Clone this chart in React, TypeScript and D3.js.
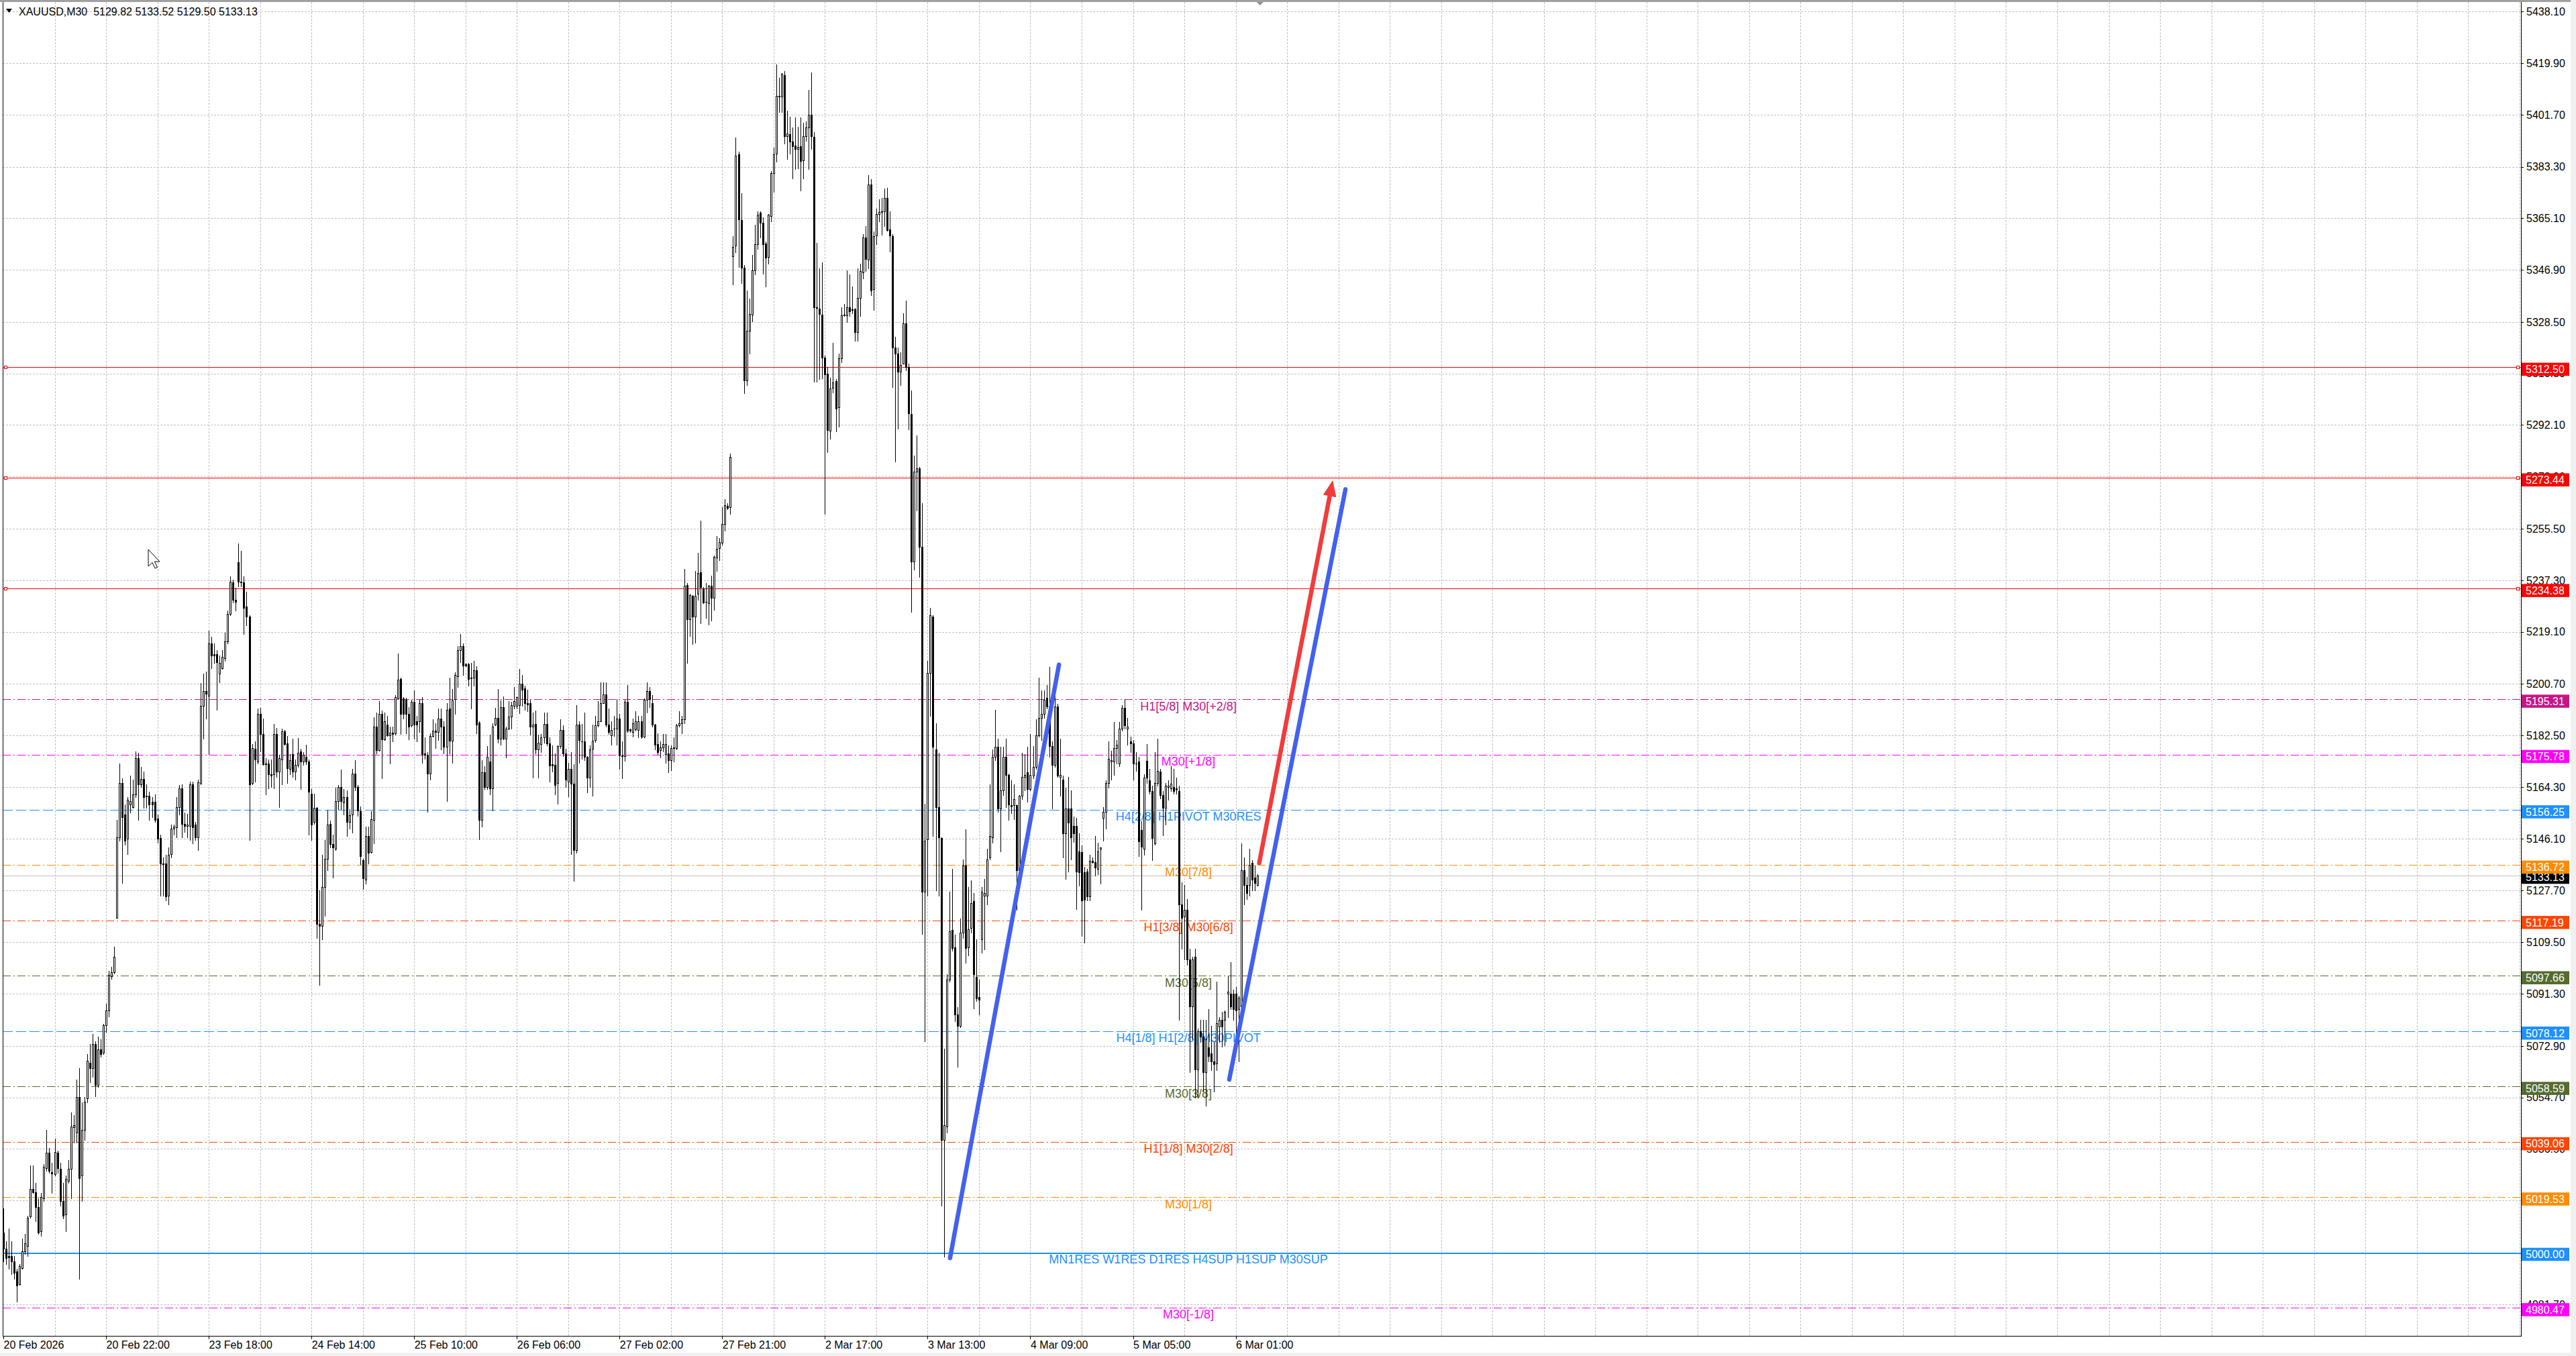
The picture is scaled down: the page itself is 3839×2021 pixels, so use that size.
import React, { useEffect, useRef } from 'react';
import * as d3 from 'd3';

type Candle = [number, number, number, number]; // open, high, low, close

const WIDTH = 3839;
const HEIGHT = 2021;
const PLOT_LEFT = 4;
const PLOT_TOP = 3;
const PLOT_RIGHT = 3757;
const PLOT_BOTTOM = 1991;
const FONT = '"Liberation Sans", Arial, Helvetica, sans-serif';

const symbolTitle = 'XAUUSD,M30';
const lastQuote = ['5129.82', '5133.52', '5129.50', '5133.13'];
const bidPrice = 5133.13;

const timeLabels = [
    '20 Feb 2026', '20 Feb 22:00', '23 Feb 18:00', '24 Feb 14:00', '25 Feb 10:00',
    '26 Feb 06:00', '27 Feb 02:00', '27 Feb 21:00', '2 Mar 17:00', '3 Mar 13:00',
    '4 Mar 09:00', '5 Mar 05:00', '6 Mar 01:00',
];
const BARS_PER_LABEL = 38;
const BARS_PER_GRID = 19;

const priceTicks = [
    '5438.10', '5419.90', '5401.70', '5383.30', '5365.10', '5346.90', '5328.50', '5310.30',
    '5292.10', '5273.90', '5255.50', '5237.30', '5219.10', '5200.70', '5182.50', '5164.30',
    '5146.10', '5127.70', '5109.50', '5091.30', '5072.90', '5054.70', '5036.50', '5018.30',
    '4999.90', '4981.70',
];

const resistanceLevels = [5312.5, 5273.44, 5234.38];

const murreyLevels = [
    5195.31, 5175.78, 5156.25, 5136.72, 5117.19, 5097.66,
    5078.12, 5058.59, 5039.06, 5019.53, 5000.0, 4980.47,
];
const murreyNames = [
    'H1[5/8] M30[+2/8]', 'M30[+1/8]', 'H4[2/8] H1PIVOT M30RES', 'M30[7/8]',
    'H1[3/8] M30[6/8]', 'M30[5/8]', 'H4[1/8] H1[2/8] M30PIVOT', 'M30[3/8]',
    'H1[1/8] M30[2/8]', 'M30[1/8]', 'MN1RES W1RES D1RES H4SUP H1SUP M30SUP', 'M30[-1/8]',
];
// line colours / styles, same order as murreyLevels
const murreyColors = [
    '#C71585', '#FF00FF', '#1E90FF', '#FF8C00', '#FF4500', '#556B2F',
    '#1E90FF', '#556B2F', '#FF4500', '#FF8C00', '#1E90FF', '#FF00FF',
];
const murreyDashes = [
    '12,4,2,4', '12,4,2,4', '15,5', '12,4,2,4', '12,4,2,4', '12,4,2,4',
    '15,5', '12,4,2,4', '12,4,2,4', '12,4,2,4', null, '12,4,2,4',
];
const LEVEL_LABEL_BAR = 438.5;

// hand drawn objects: [bar index, price]
const risingLines: [number, number][][] = [
    [[350.3, 4998.0], [390.6, 5207.5]],
    [[453.6, 5061.0], [496.6, 5269.4]],
];
const targetArrow: [number, number][] = [[464.7, 5137.5], [491.9, 5272.6]];

const candles: Candle[] = [
    [5007.0,5015.5,4996.8,5001.3],[5001.3,5004.0,4995.9,4998.1],[4998.7,5008.4,4994.2,4998.3],[4998.6,5004.0,4992.4,4996.8],[4996.8,4998.6,4990.6,4992.7],
    [4993.3,4994.2,4982.6,4988.3],[4988.8,4995.9,4988.5,4995.1],[4994.5,5004.9,4994.2,5000.4],[5000.4,5006.6,4999.5,5003.1],[5002.2,5012.9,4998.6,5012.3],
    [5012.7,5030.7,5012.3,5022.3],[5022.3,5030.7,5020.9,5021.2],[5021.2,5024.5,5011.1,5016.1],[5016.1,5019.1,5006.6,5007.0],[5007.5,5020.9,5005.7,5019.5],
    [5019.1,5031.2,5018.2,5030.2],[5029.8,5043.2,5028.9,5035.1],[5035.1,5036.9,5028.0,5028.9],[5028.4,5031.6,5020.9,5027.8],[5027.7,5040.1,5027.1,5035.5],
    [5035.1,5036.0,5028.0,5029.8],[5029.4,5031.6,5016.4,5018.2],[5018.2,5024.5,5012.0,5012.9],[5013.4,5027.1,5007.5,5025.9],[5025.3,5032.5,5024.5,5029.4],
    [5029.4,5049.4,5019.1,5044.4],[5044.1,5048.5,5038.7,5044.8],[5042.3,5061.0,5038.7,5054.8],[5054.8,5065.1,4990.6,5026.2],[5027.1,5053.0,5018.2,5043.2],
    [5043.2,5054.8,5039.6,5053.3],[5054.4,5069.9,5053.0,5067.6],[5066.9,5073.5,5060.1,5065.1],[5065.1,5077.0,5061.9,5073.5],[5073.5,5074.4,5055.1,5059.2],
    [5059.2,5076.1,5058.3,5071.7],[5071.7,5075.2,5069.0,5069.9],[5070.4,5080.6,5069.9,5080.2],[5080.2,5087.7,5077.9,5085.4],[5085.4,5099.3,5083.3,5097.9],
    [5097.5,5100.7,5096.6,5098.8],[5098.8,5107.9,5098.4,5104.3],
    [5118.0,5152.8,5118.0,5146.5],[5146.5,5172.7,5145.3,5165.8],[5165.8,5167.4,5130.5,5153.6],[5154.5,5158.1,5143.9,5145.3],[5146.0,5160.8,5140.6,5159.9],
    [5158.1,5168.4,5155.4,5159.4],[5157.2,5167.0,5156.9,5161.7],[5161.7,5176.8,5160.8,5174.5],
    [5174.5,5176.3,5152.8,5165.2],[5165.2,5171.5,5164.3,5167.2],[5167.2,5169.7,5156.9,5160.8],[5161.3,5165.2,5157.0,5161.0],[5161.1,5162.6,5152.8,5158.1],
    [5159.0,5160.8,5153.7,5158.1],[5159.0,5161.7,5151.9,5152.8],[5153.1,5154.5,5144.7,5146.0],[5146.2,5147.4,5126.0,5137.3],[5137.3,5139.4,5126.0,5137.1],
    [5137.3,5140.3,5124.3,5125.7],[5126.0,5143.0,5122.8,5140.3],[5140.6,5151.0,5139.4,5149.6],[5149.6,5151.0,5147.4,5150.3],[5150.1,5160.8,5146.5,5157.2],
    [5157.2,5164.9,5154.5,5163.8],[5163.8,5165.2,5146.5,5151.3],[5151.3,5155.4,5148.3,5150.6],[5150.6,5154.9,5146.5,5151.0],[5150.6,5166.1,5145.6,5165.2],
    [5165.2,5166.1,5144.4,5150.1],[5151.0,5151.9,5145.6,5146.5],[5146.5,5167.0,5142.1,5165.9],[5165.8,5200.9,5165.2,5192.9],[5192.9,5204.4,5181.3,5198.2],
    [5198.2,5205.1,5188.4,5197.3],[5196.4,5219.6,5175.9,5215.1],[5215.1,5217.3,5206.2,5210.7],[5211.2,5215.1,5208.0,5210.7],[5211.2,5212.5,5191.6,5208.4],
    [5204.4,5210.7,5201.2,5208.0],[5206.2,5212.5,5205.9,5210.3],[5209.8,5218.7,5208.9,5215.7],[5215.7,5226.7,5215.1,5225.5],[5225.5,5238.6,5224.9,5236.9],
    [5236.5,5237.4,5229.4,5230.3],[5230.3,5234.7,5226.7,5229.7],[5243.6,5250.4,5235.1,5236.9],[5236.9,5247.6,5235.1,5236.5],[5236.5,5238.6,5218.3,5227.6],
    [5228.0,5233.3,5221.4,5224.4],[5224.4,5224.9,5145.6,5165.2],[5165.6,5179.5,5165.2,5178.1],[5177.7,5180.4,5166.1,5174.1],[5173.3,5192.0,5172.7,5190.2],
    [5190.2,5192.3,5176.8,5183.1],[5183.1,5188.4,5172.0,5172.4],[5172.7,5174.5,5161.7,5172.4],[5172.7,5174.1,5163.8,5168.8],[5168.8,5174.1,5164.3,5168.3],
    [5168.8,5186.6,5163.8,5183.1],[5183.1,5185.2,5167.9,5169.7],[5169.7,5175.6,5157.2,5174.5],[5174.1,5184.8,5165.2,5183.9],[5183.9,5184.5,5179.1,5179.5],
    [5179.8,5182.2,5165.6,5170.9],[5170.6,5175.9,5168.8,5173.8],[5175.9,5181.3,5167.9,5169.7],[5169.7,5174.1,5167.0,5172.0],[5172.0,5181.6,5171.5,5176.3],
    [5176.8,5177.7,5163.5,5173.3],[5173.3,5176.5,5172.0,5175.6],[5175.0,5179.1,5172.4,5173.3],[5173.3,5174.1,5147.4,5162.6],[5162.0,5163.5,5145.6,5151.0],
    [5151.9,5162.0,5151.3,5156.9],[5156.9,5157.2,5110.9,5115.9],[5115.9,5127.8,5094.3,5115.3],[5115.3,5140.3,5110.4,5129.1],[5129.1,5145.6,5118.9,5138.9],
    [5138.9,5156.3,5134.9,5151.0],[5151.3,5152.4,5143.0,5144.2],[5144.2,5147.4,5132.3,5143.0],
    [5142.4,5164.0,5142.0,5159.3],[5159.3,5164.9,5156.5,5164.4],[5164.4,5170.5,5156.5,5159.3],[5158.8,5163.5,5154.6,5160.7],[5160.7,5163.0,5147.1,5152.0],
    [5152.0,5156.5,5149.5,5154.4],[5154.6,5170.7,5148.1,5169.1],
    [5169.1,5173.8,5163.0,5164.4],[5164.4,5164.9,5154.0,5156.0],[5155.7,5157.4,5137.0,5140.0],[5138.5,5139.0,5128.2,5132.0],[5131.7,5150.4,5130.1,5146.9],
    [5146.9,5150.4,5137.3,5141.0],[5141.3,5155.7,5141.0,5152.9],[5152.6,5189.0,5144.3,5185.5],[5185.5,5190.7,5176.1,5177.3],[5177.3,5194.7,5177.1,5190.2],
    [5190.2,5191.3,5167.3,5181.0],[5181.0,5190.7,5180.8,5187.4],[5186.4,5189.3,5182.2,5182.5],[5182.5,5185.7,5172.6,5183.5],[5183.5,5185.5,5180.4,5183.0],
    [5183.2,5196.7,5182.7,5196.0],[5195.6,5211.4,5195.3,5202.2],[5202.4,5203.0,5182.9,5190.2],[5195.6,5196.0,5188.5,5190.2],[5195.1,5195.8,5183.2,5190.2],
    [5190.2,5192.5,5181.0,5185.5],[5186.0,5195.1,5185.5,5194.4],[5194.4,5198.4,5181.3,5186.3],[5187.6,5189.3,5180.4,5186.4],[5187.4,5195.3,5183.6,5193.8],
    [5193.9,5196.0,5172.9,5176.0],[5176.1,5181.8,5174.3,5175.7],[5175.7,5176.6,5155.5,5169.1],[5169.1,5183.2,5167.0,5182.2],[5182.2,5188.1,5182.0,5184.1],
    [5184.1,5186.9,5178.0,5183.6],[5183.6,5192.1,5180.8,5188.5],[5188.5,5192.1,5177.6,5185.7],[5185.7,5187.4,5176.1,5178.5],[5178.5,5193.9,5159.3,5191.6],
    [5192.1,5202.8,5176.1,5180.6],[5180.6,5198.8,5172.9,5194.9],[5195.3,5204.7,5190.2,5203.8],[5203.3,5214.1,5199.5,5212.7],[5212.7,5218.3,5208.4,5214.1],
    [5214.1,5215.0,5203.8,5207.1],[5207.7,5208.2,5207.0,5207.2],[5207.7,5208.0,5200.0,5202.4],[5202.8,5208.0,5192.1,5202.6],[5202.8,5208.9,5200.0,5205.6],
    [5205.6,5207.0,5183.2,5186.4],[5187.1,5187.4,5145.7,5152.7],[5152.7,5173.8,5150.4,5169.6],[5169.6,5171.7,5163.5,5164.4],[5164.4,5178.8,5163.5,5175.0],
    [5173.3,5182.7,5161.6,5163.8],[5163.8,5186.9,5156.0,5185.7],[5186.4,5192.3,5186.0,5188.8],[5188.8,5198.8,5179.9,5181.3],[5181.3,5194.9,5179.1,5192.5],
    [5192.5,5196.3,5181.0,5181.3],[5181.3,5185.5,5174.7,5185.0],[5185.0,5194.7,5184.6,5189.1],[5189.1,5194.4,5184.8,5193.2],[5193.0,5199.7,5192.1,5194.7],
    [5193.0,5196.3,5192.1,5196.0],[5193.3,5206.1,5190.4,5200.7],[5200.7,5203.8,5193.0,5198.6],[5199.1,5200.0,5191.6,5193.8],[5193.8,5198.6,5191.0,5193.5],
    [5193.8,5195.1,5182.7,5185.5],[5185.5,5190.7,5167.7,5186.3],[5186.6,5191.3,5176.1,5177.6],[5177.6,5182.7,5167.7,5179.9],[5179.4,5182.9,5176.6,5181.8],
    [5181.8,5190.7,5179.9,5186.6],[5186.6,5190.7,5178.9,5179.7],[5179.7,5181.8,5166.3,5171.9],[5172.4,5178.9,5169.8,5171.9],[5172.2,5176.1,5161.6,5164.9],
    [5165.7,5178.9,5158.4,5178.8],[5178.8,5188.3,5178.0,5184.4],[5184.4,5186.0,5175.2,5176.1],[5176.1,5177.8,5164.4,5166.8],[5166.3,5172.9,5161.0,5170.7],
    [5170.7,5176.6,5140.6,5165.4],[5165.4,5172.4,5131.2,5142.0],[5142.0,5193.2,5141.0,5186.3],[5186.3,5187.4,5172.9,5180.8],[5180.5,5186.6,5174.3,5180.4],
    [5180.4,5190.7,5173.8,5175.0],[5175.0,5175.2,5162.3,5167.7],[5167.7,5178.9,5164.2,5177.6],[5177.8,5186.3,5161.2,5180.6],[5180.8,5189.5,5180.1,5186.0],
    [5186.0,5194.7,5185.5,5187.6],[5187.6,5201.2,5187.4,5193.9],[5193.9,5201.2,5193.8,5196.9],[5196.9,5201.2,5185.5,5186.3],[5186.3,5192.1,5182.9,5183.6],
    [5182.5,5187.4,5179.1,5184.4],[5185.0,5189.5,5182.2,5185.0],[5185.0,5195.3,5179.1,5188.5],[5188.5,5190.2,5170.7,5175.4],[5175.4,5180.4,5167.3,5175.2],
    [5175.2,5195.1,5173.5,5194.4],[5194.4,5200.3,5183.6,5184.1],[5184.6,5185.0,5183.6,5184.1],[5183.6,5188.5,5182.0,5186.9],[5184.6,5191.1,5184.1,5187.4],
    [5184.4,5189.5,5181.8,5187.4],[5187.6,5189.3,5181.6,5182.0],[5182.0,5195.6,5181.8,5195.1],[5195.1,5201.2,5190.7,5198.2],[5198.2,5199.6,5192.5,5195.3],
    [5193.8,5196.7,5185.7,5186.3],[5186.3,5186.6,5177.6,5179.1],[5179.4,5183.2,5175.9,5176.6],[5177.3,5180.4,5174.7,5178.2],[5178.2,5182.9,5176.9,5179.4],
    [5176.0,5182.9,5172.9,5179.4],[5176.1,5178.9,5169.4,5173.8],[5173.8,5178.9,5170.1,5178.0],[5178.2,5181.8,5173.3,5178.0],[5178.0,5186.6,5177.6,5186.0],
    [5186.0,5191.1,5185.7,5186.9],[5186.9,5189.4,5183.2,5188.1],
    [5188.3,5241.2,5186.9,5235.3],[5235.5,5236.2,5208.1,5223.6],[5223.6,5232.4,5217.7,5232.0],[5231.8,5232.0,5214.7,5224.5],[5224.5,5240.6,5215.3,5231.8],
    [5232.4,5247.0,5230.3,5239.9],[5240.2,5258.4,5222.1,5234.8],[5234.3,5235.0,5229.2,5229.4],[5229.6,5236.2,5224.0,5229.6],[5229.2,5235.5,5221.7,5235.3],
    [5235.3,5239.0,5223.1,5231.0],[5231.0,5246.0,5226.8,5245.6],[5245.3,5253.0,5240.6,5248.4],[5248.6,5252.1,5244.3,5250.7],[5250.5,5263.1,5249.8,5257.1],
    [5257.1,5265.9,5254.9,5263.8],[5263.6,5264.6,5262.4,5262.9],[5263.1,5282.0,5260.8,5280.9],
    [5351.7,5358.9,5341.7,5354.9],[5355.4,5393.5,5353.0,5387.1],[5387.7,5388.7,5348.0,5364.6],[5364.4,5373.9,5342.2,5347.7],[5347.7,5348.5,5303.3,5307.8],
    [5307.8,5339.6,5306.3,5325.3],[5325.3,5336.7,5317.4,5331.4],[5331.1,5352.2,5328.7,5346.6],[5346.6,5362.8,5345.4,5355.9],[5355.9,5367.6,5354.4,5366.3],
    [5367.0,5367.6,5358.3,5363.6],[5363.6,5365.5,5345.6,5355.9],[5356.2,5356.8,5341.1,5351.2],[5351.5,5366.5,5349.1,5366.3],[5366.0,5381.8,5363.9,5381.1],
    [5381.1,5390.0,5374.4,5387.7],[5387.9,5419.4,5385.0,5408.3],[5408.0,5414.6,5402.5,5408.2],[5408.0,5416.4,5402.5,5416.0],[5415.7,5417.0,5391.4,5394.0],
    [5394.2,5403.0,5386.1,5395.1],[5394.9,5400.9,5387.9,5392.1],[5392.1,5397.2,5379.2,5390.6],[5390.8,5400.6,5382.4,5389.6],[5389.6,5397.4,5382.6,5390.3],
    [5390.6,5400.6,5375.0,5385.3],[5385.5,5398.8,5379.2,5394.2],[5394.2,5399.3,5392.4,5397.2],[5397.2,5410.4,5382.4,5401.6],[5401.6,5416.7,5389.6,5394.2],
    [5393.8,5395.6,5307.3,5333.7],[5333.7,5356.5,5307.3,5333.4],[5333.2,5347.5,5308.4,5331.4],[5331.1,5349.6,5308.6,5316.0],[5315.8,5316.5,5260.8,5310.0],
    [5310.3,5312.6,5282.5,5290.4],[5290.2,5308.9,5287.2,5305.0],[5305.2,5321.1,5303.6,5307.1],[5307.5,5308.4,5289.9,5297.8],[5298.3,5317.4,5291.5,5315.6],
    [5315.6,5333.7,5314.2,5330.8],[5330.8,5334.8,5330.6,5331.0],[5330.8,5346.6,5328.5,5333.7],[5333.7,5345.4,5330.6,5332.2],[5332.9,5340.9,5331.6,5332.7],
    [5332.9,5333.5,5321.9,5324.8],[5324.8,5347.5,5321.9,5337.0],[5337.1,5349.1,5330.6,5346.4],[5345.9,5359.6,5343.8,5358.3],[5358.3,5362.3,5346.4,5350.7],
    [5350.4,5380.3,5347.5,5377.1],[5377.1,5379.0,5338.0,5339.6],[5340.1,5360.4,5332.7,5358.9],[5359.1,5368.6,5355.9,5366.7],[5366.7,5371.8,5363.9,5367.4],
    [5367.4,5372.3,5359.3,5367.6],[5367.6,5375.5,5362.3,5372.3],[5372.3,5375.8,5360.7,5361.0],[5361.2,5367.6,5353.3,5359.1],[5358.9,5359.6,5305.4,5319.5],
    [5319.5,5323.2,5279.3,5317.4],[5317.4,5319.5,5290.9,5311.0],[5311.0,5317.9,5306.3,5313.4],[5313.7,5331.6,5313.7,5327.9],[5327.9,5336.1,5311.5,5312.6],
    [5312.6,5313.7,5290.6,5296.2],
    [5295.9,5304.4,5226.1,5244.0],[5244.0,5281.4,5241.0,5275.6],[5275.6,5288.5,5262.0,5276.9],[5276.9,5277.2,5238.4,5249.1],[5249.1,5264.5,5112.4,5127.3],
    [5127.3,5158.4,5074.4,5145.4],[5145.9,5208.8,5126.0,5204.6],[5204.6,5227.5,5189.4,5224.9],[5224.4,5224.9,5147.1,5178.4],[5177.6,5186.9,5127.7,5157.3],
    [5157.3,5176.4,5126.0,5146.6],[5146.3,5146.6,5016.4,5039.7],[5039.7,5071.8,4998.5,5044.8],[5044.4,5098.1,5042.2,5096.4],[5096.4,5127.3,5095.5,5113.3],
    [5113.8,5135.3,5106.5,5107.4],[5107.7,5112.1,5081.6,5084.0],[5084.0,5086.7,5065.4,5079.9],[5079.9,5117.9,5079.5,5112.8],[5112.8,5138.7,5111.1,5136.5],
    [5136.5,5149.3,5102.3,5107.4],[5107.7,5129.0,5104.8,5114.1],[5114.5,5131.4,5112.8,5123.4],[5123.9,5126.8,5086.2,5098.1],[5097.2,5110.4,5088.8,5089.6],
    [5090.1,5096.4,5084.0,5089.1],[5110.4,5129.0,5105.7,5127.3],[5126.0,5131.9,5107.0,5126.8],[5126.0,5142.5,5122.9,5138.7],[5139.5,5165.2,5138.7,5147.1],
    [5146.6,5177.6,5144.6,5175.0],[5175.0,5191.6,5173.7,5178.4],[5178.4,5181.4,5155.6,5156.8],[5156.8,5178.4,5141.5,5163.2],[5163.2,5178.4,5161.5,5175.0],
    [5175.0,5181.4,5157.3,5168.6],[5168.6,5169.1,5152.7,5158.1],[5157.8,5166.6,5155.1,5157.4],[5157.8,5165.2,5153.0,5160.1],[5157.8,5158.1,5120.9,5134.8],
    [5134.8,5161.5,5133.6,5161.2],[5161.2,5176.4,5160.1,5167.9],[5167.9,5175.9,5163.2,5168.6],[5169.6,5178.4,5159.0,5163.5],[5163.5,5183.1,5163.2,5168.6],
    [5168.3,5178.7,5167.4,5171.3],[5171.3,5188.2,5170.8,5182.6],[5182.6,5202.9,5182.1,5188.6],[5188.6,5198.4,5180.9,5190.2],[5190.2,5198.4,5188.6,5195.0],
    [5195.7,5200.4,5191.9,5192.8],[5192.8,5206.8,5175.0,5178.7],[5178.7,5180.4,5156.8,5172.0],[5172.0,5196.7,5171.3,5192.8],[5192.8,5193.6,5167.9,5168.3],
    [5167.9,5181.4,5161.2,5168.6],[5166.9,5168.3,5139.5,5147.9],[5147.9,5164.0,5131.9,5156.8],[5156.8,5167.9,5134.4,5151.7],[5156.8,5163.2,5138.7,5146.6],
    [5150.5,5153.9,5144.9,5147.9],[5150.5,5153.4,5121.2,5134.4],[5141.5,5147.9,5129.4,5134.1],[5141.2,5143.7,5111.6,5124.3],[5134.1,5136.1,5109.4,5124.6],
    [5134.4,5135.3,5124.3,5125.6],[5125.6,5140.3,5124.3,5138.2],[5138.2,5139.5,5137.5,5137.8],[5137.8,5147.1,5133.1,5135.8],[5135.3,5144.6,5133.6,5141.5],
    [5142.4,5142.9,5130.2,5142.9],[5153.4,5157.3,5145.4,5155.6],[5155.6,5166.6,5149.7,5165.7],[5165.7,5180.4,5164.0,5174.2],[5173.3,5177.1,5166.9,5173.7],
    [5173.3,5187.2,5168.6,5178.1],[5178.1,5180.9,5172.5,5179.2],[5172.5,5187.2,5171.6,5184.8],[5184.8,5193.3,5184.3,5192.3],[5192.3,5195.3,5184.8,5186.0],
    [5184.8,5188.6,5179.2,5185.5],[5180.4,5182.1,5176.7,5179.8],[5179.8,5180.9,5166.9,5172.5],[5172.5,5176.7,5170.0,5172.5],[5173.4,5175.0,5140.0,5145.0],
    [5149.2,5152.1,5121.0,5143.3],[5142.4,5168.7,5140.4,5167.7],[5173.5,5179.4,5165.8,5167.7],[5166.7,5170.6,5161.9,5162.8],[5162.8,5164.8,5138.5,5146.3],
    [5144.3,5176.5,5143.9,5165.8],[5165.8,5181.3,5164.8,5170.0],[5169.7,5170.6,5160.3,5161.5],[5161.5,5162.8,5147.2,5157.0],[5157.0,5165.8,5151.1,5164.8],
    [5164.2,5166.7,5159.9,5164.8],[5163.8,5171.6,5162.8,5165.4],[5164.2,5170.6,5161.9,5162.8],[5163.8,5167.7,5161.9,5163.4],[5162.8,5164.8,5082.0,5122.9],
    [5122.9,5130.7,5107.3,5118.0],[5118.6,5129.7,5103.4,5120.9],[5120.9,5124.8,5101.5,5103.4],[5103.4,5107.3,5063.5,5086.9],[5086.9,5104.4,5075.2,5103.4],
    [5104.4,5107.3,5054.7,5064.5],[5064.5,5079.1,5054.7,5078.1],[5078.1,5082.0,5074.2,5076.1],[5076.1,5082.0,5056.7,5063.5],[5063.5,5082.0,5051.8,5075.2],
    [5072.3,5085.9,5067.4,5069.3],[5070.3,5080.0,5064.4,5067.4],[5067.4,5074.2,5056.7,5066.4],[5066.8,5095.6,5064.4,5081.0],[5079.6,5083.0,5074.2,5082.0],
    [5082.0,5084.9,5072.6,5079.6],[5082.0,5085.5,5073.2,5084.9],[5091.3,5097.6,5083.0,5092.1],[5091.3,5102.4,5085.9,5086.9],[5091.3,5092.7,5082.0,5085.9],
    [5091.3,5093.7,5072.2,5085.5],[5085.9,5090.7,5067.4,5089.8],[5086.9,5144.3,5085.9,5135.0],[5135.0,5139.5,5122.9,5129.7],[5129.7,5132.6,5124.8,5126.8],
    [5129.7,5142.4,5125.8,5136.9],[5137.5,5138.5,5127.8,5131.7],[5132.2,5136.5,5127.8,5130.3],[5129.82,5133.52,5129.50,5133.13],
];

const App: React.FC = () => {
    const svgRef = useRef<SVGSVGElement>(null);

    useEffect(() => {
        if (!svgRef.current) return;
        const svg = d3.select(svgRef.current);
        svg.selectAll('*').remove();

        const x = d3.scaleLinear().domain([0, 456]).range([5, 5 + 456 * 4.0276]);
        const y = d3.scaleLinear().domain([5000, 5438.1]).range([1866.5, 17.2]);
        const px = (i: number) => Math.round(x(i)) + 0.5;
        const py = (p: number) => Math.round(y(p)) + 0.5;

        svg.append('rect').attr('width', WIDTH).attr('height', HEIGHT).attr('fill', '#ffffff');

        // grid
        const grid = svg.append('g')
            .attr('shape-rendering', 'crispEdges')
            .attr('stroke', '#c0c0c0')
            .attr('stroke-width', 1)
            .attr('stroke-dasharray', '3,2');
        d3.range(BARS_PER_GRID, 2000, BARS_PER_GRID)
            .filter(i => x(i) < PLOT_RIGHT - 2)
            .forEach(i => {
                grid.append('line')
                    .attr('x1', px(i)).attr('x2', px(i))
                    .attr('y1', PLOT_TOP).attr('y2', PLOT_BOTTOM);
            });
        priceTicks.forEach(t => {
            grid.append('line')
                .attr('x1', PLOT_LEFT).attr('x2', PLOT_RIGHT)
                .attr('y1', py(+t)).attr('y2', py(+t));
        });

        // murrey math levels
        const levels = svg.append('g').attr('shape-rendering', 'crispEdges');
        murreyLevels.forEach((lv, k) => {
            const l = levels.append('line')
                .attr('x1', PLOT_LEFT).attr('x2', PLOT_RIGHT)
                .attr('y1', py(lv)).attr('y2', py(lv))
                .attr('stroke', murreyColors[k])
                .attr('stroke-width', murreyDashes[k] ? 1 : 2);
            if (murreyDashes[k]) l.attr('stroke-dasharray', murreyDashes[k] as string);
        });

        // bid line
        levels.append('line')
            .attr('x1', PLOT_LEFT).attr('x2', PLOT_RIGHT)
            .attr('y1', py(bidPrice)).attr('y2', py(bidPrice))
            .attr('stroke', '#c0c0c0');

        // resistance lines with their end handles
        resistanceLevels.forEach(lv => {
            levels.append('line')
                .attr('x1', PLOT_LEFT).attr('x2', PLOT_RIGHT)
                .attr('y1', py(lv)).attr('y2', py(lv))
                .attr('stroke', '#ff0000');
            [PLOT_LEFT + 2, PLOT_RIGHT - 7].forEach(hx => {
                levels.append('rect')
                    .attr('x', hx + 0.5).attr('y', py(lv) - 2)
                    .attr('width', 4).attr('height', 4)
                    .attr('fill', '#ffffff').attr('stroke', '#ff0000');
            });
        });

        // level captions
        const captions = svg.append('g')
            .attr('font-family', FONT)
            .attr('font-size', 18)
            .attr('text-anchor', 'middle');
        murreyLevels.forEach((lv, k) => {
            captions.append('text')
                .attr('x', x(LEVEL_LABEL_BAR))
                .attr('y', y(lv) + 16.5)
                .attr('fill', murreyColors[k])
                .text(murreyNames[k]);
        });

        // candles
        const bars = svg.append('g').attr('shape-rendering', 'crispEdges');
        candles.forEach(([o, h, l, c], i) => {
            const cx = px(i);
            bars.append('line')
                .attr('x1', cx).attr('x2', cx)
                .attr('y1', Math.round(y(h))).attr('y2', Math.round(y(l)) + 1)
                .attr('stroke', '#000');
            const top = py(Math.max(o, c));
            const bottom = py(Math.min(o, c));
            if (bottom - top < 1) {
                bars.append('line')
                    .attr('x1', cx - 1.5).attr('x2', cx + 1.5)
                    .attr('y1', top).attr('y2', top)
                    .attr('stroke', '#000');
            } else {
                bars.append('rect')
                    .attr('x', cx - 1).attr('y', top)
                    .attr('width', 2).attr('height', bottom - top)
                    .attr('fill', c >= o ? '#ffffff' : '#000000')
                    .attr('stroke', '#000');
            }
        });

        // drawn trend lines and target arrow
        const draw = svg.append('g').attr('stroke-linecap', 'round');
        risingLines.forEach(([a, b]) => {
            draw.append('line')
                .attr('x1', x(a[0])).attr('y1', y(a[1]))
                .attr('x2', x(b[0])).attr('y2', y(b[1]))
                .attr('stroke', '#4361ee')
                .attr('stroke-width', 6.5);
        });
        const [s, t] = targetArrow;
        const x0 = x(s[0]), y0 = y(s[1]), x1 = x(t[0]), y1 = y(t[1]);
        const len = Math.hypot(x1 - x0, y1 - y0);
        const ux = (x1 - x0) / len, uy = (y1 - y0) / len;
        const headLen = 24, headHalf = 10;
        const bx = x1 - ux * headLen, by = y1 - uy * headLen;
        draw.append('line')
            .attr('x1', x0).attr('y1', y0)
            .attr('x2', bx + ux * 2).attr('y2', by + uy * 2)
            .attr('stroke', '#f03c3c')
            .attr('stroke-width', 6.5);
        draw.append('path')
            .attr('d', `M${x1},${y1}L${bx - uy * headHalf},${by + ux * headHalf}L${bx + uy * headHalf},${by - ux * headHalf}Z`)
            .attr('fill', '#f03c3c');

        // mouse pointer left on the chart
        svg.append('path')
            .attr('transform', 'translate(221,819)')
            .attr('d', 'M0,0L0,25L6,19.5L10,28L13.5,26.5L9.5,18L17,18Z')
            .attr('fill', '#ffffff')
            .attr('stroke', '#000')
            .attr('stroke-width', 1);

        // frame
        svg.append('rect').attr('x', 0).attr('y', 0).attr('width', WIDTH).attr('height', 3).attr('fill', '#a0a0a0');
        svg.append('rect').attr('x', WIDTH - 8).attr('y', 0).attr('width', 8).attr('height', HEIGHT).attr('fill', '#f0f0f0');
        svg.append('rect').attr('x', 0).attr('y', HEIGHT - 5).attr('width', WIDTH).attr('height', 5).attr('fill', '#f0f0f0');
        const frame = svg.append('g').attr('shape-rendering', 'crispEdges').attr('stroke', '#000').attr('stroke-width', 1);
        frame.append('line').attr('x1', PLOT_LEFT + 0.5).attr('x2', PLOT_LEFT + 0.5).attr('y1', PLOT_TOP).attr('y2', PLOT_BOTTOM + 1);
        frame.append('line').attr('x1', PLOT_RIGHT + 0.5).attr('x2', PLOT_RIGHT + 0.5).attr('y1', PLOT_TOP).attr('y2', PLOT_BOTTOM + 1);
        frame.append('line').attr('x1', PLOT_LEFT).attr('x2', PLOT_RIGHT + 1).attr('y1', PLOT_BOTTOM + 0.5).attr('y2', PLOT_BOTTOM + 0.5);

        // chart shift marker
        const sx = x(candles.length);
        svg.append('path')
            .attr('d', `M${sx - 5},3L${sx + 5},3L${sx},8Z`)
            .attr('fill', '#909090');

        // title
        svg.append('path').attr('d', 'M9,13L18,13L13.5,19Z').attr('fill', '#000');
        svg.append('text')
            .attr('x', 28).attr('y', 22.5)
            .attr('font-family', FONT).attr('font-size', 16)
            .style('white-space', 'pre')
            .attr('fill', '#000')
            .text(`${symbolTitle}  ${lastQuote.join(' ')}`);

        // time axis
        const tAxis = svg.append('g').attr('font-family', FONT).attr('font-size', 16).attr('fill', '#000');
        timeLabels.forEach((lab, k) => {
            const i = k * BARS_PER_LABEL;
            tAxis.append('line')
                .attr('shape-rendering', 'crispEdges')
                .attr('x1', px(i)).attr('x2', px(i))
                .attr('y1', PLOT_BOTTOM).attr('y2', PLOT_BOTTOM + 5)
                .attr('stroke', '#000');
            tAxis.append('text')
                .attr('x', x(i) + 0.5).attr('y', 2010)
                .text(lab);
        });

        // price axis
        const pAxis = svg.append('g').attr('font-family', FONT).attr('font-size', 16);
        priceTicks.forEach(t => {
            pAxis.append('line')
                .attr('shape-rendering', 'crispEdges')
                .attr('x1', PLOT_RIGHT).attr('x2', PLOT_RIGHT + 4)
                .attr('y1', py(+t)).attr('y2', py(+t))
                .attr('stroke', '#000');
            pAxis.append('text')
                .attr('x', PLOT_RIGHT + 8).attr('y', y(+t) + 5.8)
                .attr('fill', '#000')
                .text(t);
        });

        const priceTag = (p: number, bg: string) => {
            pAxis.append('rect')
                .attr('x', PLOT_RIGHT + 1).attr('y', y(p) + 3 - 9.75)
                .attr('width', 71).attr('height', 19.5)
                .attr('fill', bg);
            pAxis.append('text')
                .attr('x', PLOT_RIGHT + 7).attr('y', y(p) + 3 + 5.8)
                .attr('fill', '#ffffff')
                .text(d3.format('.2f')(p));
        };
        priceTag(bidPrice, '#000000');
        resistanceLevels.forEach(lv => priceTag(lv, '#ff0000'));
        murreyLevels.forEach((lv, k) => priceTag(lv, murreyColors[k]));
    }, []);

    return (
        <svg
            ref={svgRef}
            width={WIDTH}
            height={HEIGHT}
            style={{ position: 'absolute', left: 0, top: 0, display: 'block' }}
        />
    );
};

export default App;
